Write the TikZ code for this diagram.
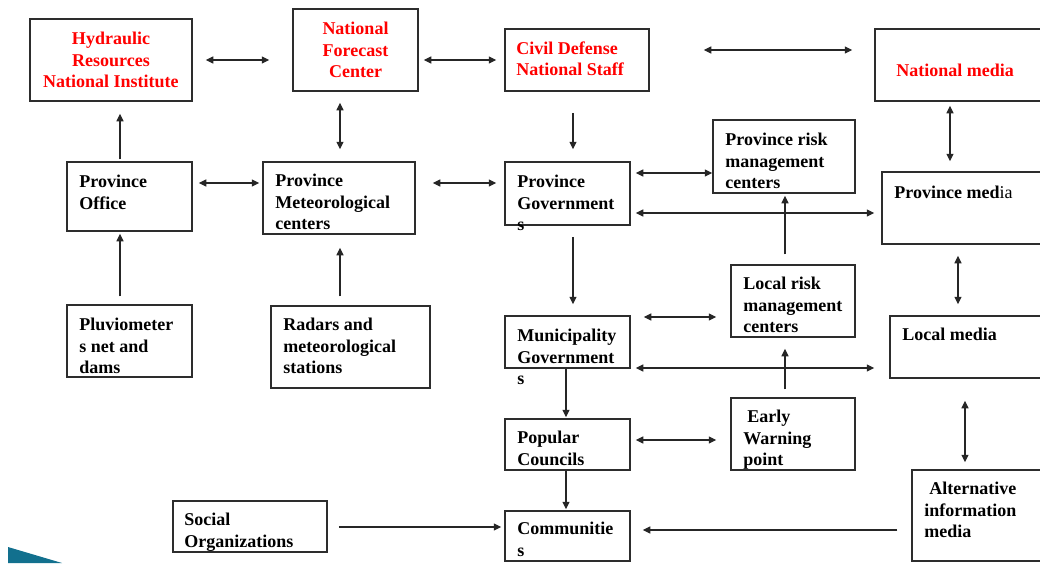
\documentclass[tikz,border=0pt]{standalone}
\usepackage{fontspec}
\setmainfont{Liberation Serif}
\usetikzlibrary{arrows.meta,calc}
\newcommand\lblfont{\bfseries\fontsize{18}{21.5}\selectfont}
\definecolor{boxline}{RGB}{45,45,45}
\definecolor{wedge}{RGB}{18,112,142}
\begin{document}
\begin{tikzpicture}[x=1pt,y=-1pt,
  box/.style={draw=boxline, line width=1.5pt, rectangle, inner sep=0pt},
  redbox/.style={box, text=red, align=center, font=\lblfont},
  lbl/.style={anchor=north west, inner sep=0pt, align=left, font=\lblfont, yshift=-3pt},
  tip/.tip={Triangle[length=7.5pt,width=7pt]},
  one/.style={-tip, line width=1.2pt, draw=black!85},
  two/.style={tip-tip, line width=1.2pt, draw=black!85}]
\useasboundingbox (0,0) rectangle (1040,563);

% corner ornament
\fill[wedge] (8,547) -- (62,563) -- (8,563) -- cycle;

% national level
\node[redbox, minimum width=162, minimum height=82] (hrni) at (111,60) {Hydraulic\\Resources\\National Institute};
\node[redbox, minimum width=125, minimum height=82] (nfc) at (355.5,50) {National\\Forecast\\Center};
\node[box, minimum width=144, minimum height=62] (cdns) at (577,60) {};
\node[lbl, text=red] (cdnst) at ($(cdns.north west)+(12,10)$) {Civil Defense\\National Staff};
\node[box, minimum width=185, minimum height=72] (nmedia) at (967.5,65) {};
\node[lbl, text=red] (nmediat) at ($(nmedia.north west)+(22,33)$) {National media};

% province level
\node[box, minimum width=125, minimum height=69] (poff) at (129.5,196.5) {};
\node[lbl] (pofft) at ($(poff.north west)+(13,11)$) {Province\\Office};
\node[box, minimum width=152, minimum height=72] (pmet) at (339,198) {};
\node[lbl] (pmett) at ($(pmet.north west)+(13,10)$) {Province\\Meteorological\\centers};
\node[box, minimum width=125, minimum height=63] (pgov) at (567.5,193.5) {};
\node[lbl] (pgovt) at ($(pgov.north west)+(13,11)$) {Province\\Government\\s};
\node[box, minimum width=142, minimum height=73] (prisk) at (784,156.5) {};
\node[lbl] (priskt) at ($(prisk.north west)+(13,11)$) {Province risk\\management\\centers};
\node[box, minimum width=178, minimum height=72] (pmedia) at (971,208) {};
\node[lbl] (pmediat) at ($(pmedia.north west)+(13,12)$) {Province med{\mdseries ia}};

% sources
\node[box, minimum width=125, minimum height=72] (pluv) at (129.5,341) {};
\node[lbl] (pluvt) at ($(pluv.north west)+(13,11)$) {Pluviometer\\s net and\\dams};
\node[box, minimum width=159, minimum height=82] (radar) at (350.5,347) {};
\node[lbl] (radart) at ($(radar.north west)+(13,10)$) {Radars and\\meteorological\\stations};

% municipal level
\node[box, minimum width=125, minimum height=52] (mgov) at (567.5,342) {};
\node[lbl] (mgovt) at ($(mgov.north west)+(13,11)$) {Municipality\\Government\\s};
\node[box, minimum width=124, minimum height=72] (lrisk) at (793,301) {};
\node[lbl] (lriskt) at ($(lrisk.north west)+(13,10)$) {Local risk\\management\\centers};
\node[box, minimum width=170, minimum height=62] (lmedia) at (975,347) {};
\node[lbl] (lmediat) at ($(lmedia.north west)+(13,10)$) {Local media};

% local level
\node[box, minimum width=125, minimum height=51] (popc) at (567.5,444.5) {};
\node[lbl] (popct) at ($(popc.north west)+(13,10)$) {Popular\\Councils};
\node[box, minimum width=124, minimum height=72] (ewp) at (793,434) {};
\node[lbl] (ewpt) at ($(ewp.north west)+(13,10)$) {\hspace*{4pt}Early\\Warning\\point};
\node[box, minimum width=154, minimum height=51] (soc) at (250,526.5) {};
\node[lbl] (soct) at ($(soc.north west)+(12,10)$) {Social\\Organizations};
\node[box, minimum width=125, minimum height=50] (comm) at (567.5,536) {};
\node[lbl] (commt) at ($(comm.north west)+(13,9)$) {Communitie\\s};
\node[box, minimum width=148, minimum height=91] (alt) at (986,515.5) {};
\node[lbl] (altt) at ($(alt.north west)+(13,10)$) {\hspace*{5pt}Alternative\\information\\media};

% connectors
\draw[two, shorten <=13pt, shorten >=23pt] (hrni.east) -- (hrni.east -| nfc.west);
\draw[two, shorten <=5pt, shorten >=8pt] (nfc.east |- cdns.west) -- (cdns.west);
\draw[two, shorten <=54pt, shorten >=22pt] (cdns.east |- 0,50) -- (nmedia.west |- 0,50);
\draw[one, shorten <=2pt, shorten >=12pt] (poff.north -| 120,0) -- (hrni.south -| 120,0);
\draw[two, shorten <=12pt, shorten >=11pt] (pmet.north -| 340,0) -- (nfc.south -| 340,0);
\draw[two, shorten <=6pt, shorten >=3pt] (poff.east |- 0,183) -- (pmet.west |- 0,183);
\draw[two, shorten <=17pt, shorten >=8pt] (pmet.east |- 0,183) -- (pgov.west |- 0,183);
\draw[one, shorten <=21pt, shorten >=12pt] (cdns.south -| 573,0) -- (pgov.north -| 573,0);
\draw[two, shorten <=5pt] (pgov.east |- 0,173) -- (prisk.west |- 0,173);
\draw[two, shorten <=5pt, shorten >=7pt] (pgov.east |- 0,213) -- (pmedia.west |- 0,213);
\draw[two, shorten <=4pt, shorten >=10pt] (nmedia.south -| 950,0) -- (pmedia.north -| 950,0);
\draw[one, shorten <=8pt, shorten >=2pt] (pluv.north -| 120,0) -- (poff.south -| 120,0);
\draw[one, shorten <=9pt, shorten >=13pt] (radar.north -| 340,0) -- (pmet.south -| 340,0);
\draw[one, shorten <=11pt, shorten >=11pt] (pgov.south -| 573,0) -- (mgov.north -| 573,0);
\draw[one, shorten <=10pt, shorten >=2pt] (lrisk.north -| 785,0) -- (prisk.south -| 785,0);
\draw[two, shorten <=13pt, shorten >=14pt] (mgov.east |- 0,317) -- (lrisk.west |- 0,317);
\draw[two, shorten <=5pt, shorten >=15pt] (mgov.east |- 0,368) -- (lmedia.west |- 0,368);
\draw[two, shorten <=11pt, shorten >=11pt] (pmedia.south -| 958,0) -- (lmedia.north -| 958,0);
\draw[one, shorten <=8pt, shorten >=11pt] (ewp.north -| 785,0) -- (lrisk.south -| 785,0);
\draw[one, shorten >=1pt] (mgov.south -| 566,0) -- (popc.north -| 566,0);
\draw[two, shorten <=5pt, shorten >=14pt] (popc.east |- 0,440) -- (ewp.west |- 0,440);
\draw[one, shorten >=1pt] (popc.south -| 566,0) -- (comm.north -| 566,0);
\draw[one, shorten <=11pt, shorten >=3pt] (soc.east |- 0,527) -- (comm.west |- 0,527);
\draw[one, shorten <=14pt, shorten >=12pt] (alt.west |- 0,530) -- (comm.east |- 0,530);
\draw[two, shorten <=22pt, shorten >=7pt] (lmedia.south -| 965,0) -- (alt.north -| 965,0);
\end{tikzpicture}
\end{document}
